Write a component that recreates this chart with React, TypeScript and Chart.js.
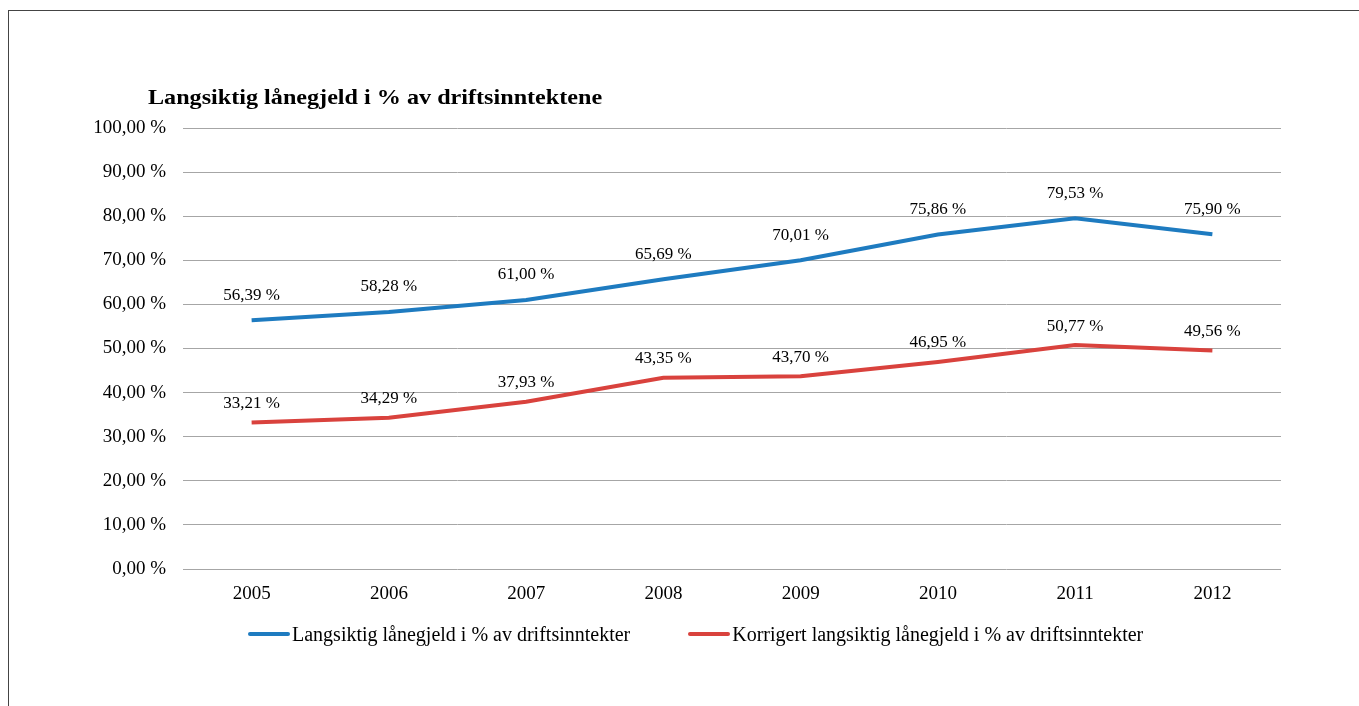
import React, { useEffect, useRef } from "react";
import { Chart, registerables } from "chart.js";

Chart.register(...registerables);

const years = ["2005", "2006", "2007", "2008", "2009", "2010", "2011", "2012"];
const langsiktig = [56.39, 58.28, 61.0, 65.69, 70.01, 75.86, 79.53, 75.9];
const korrigert = [33.21, 34.29, 37.93, 43.35, 43.7, 46.95, 50.77, 49.56];
const seriesNames = [
  "Langsiktig lånegjeld i % av driftsinntekter",
  "Korrigert langsiktig lånegjeld i % av driftsinntekter",
];
const chartTitle = "Langsiktig lånegjeld i % av driftsinntektene";
const BLUE = "#1E7BC0";
const RED = "#D9423D";
const FONT = "'Liberation Serif', 'Times New Roman', serif";

const fmt = (v: number) => v.toFixed(2).replace(".", ",") + " %";

const labelPlugin = {
  id: "pointLabels",
  afterDatasetsDraw(chart: any) {
    const ctx = chart.ctx;
    ctx.save();
    ctx.font = `17px ${FONT}`;
    ctx.fillStyle = "#000";
    ctx.textAlign = "center";
    ctx.textBaseline = "middle";
    chart.data.datasets.forEach((ds: any, di: number) => {
      const meta = chart.getDatasetMeta(di);
      const off = di === 0 ? 25 : 19;
      meta.data.forEach((pt: any, i: number) => {
        ctx.fillText(fmt(ds.data[i]), pt.x, pt.y - off);
      });
    });
    ctx.restore();
  },
};

export default function App() {
  const ref = useRef<HTMLCanvasElement>(null);
  useEffect(() => {
    if (!ref.current) return;
    const chart = new Chart(ref.current, {
      type: "line",
      data: {
        labels: years,
        datasets: [
          {
            label: seriesNames[0],
            data: langsiktig,
            borderColor: BLUE,
            backgroundColor: BLUE,
            borderWidth: 4,
            pointRadius: 0,
            tension: 0,
          },
          {
            label: seriesNames[1],
            data: korrigert,
            borderColor: RED,
            backgroundColor: RED,
            borderWidth: 4,
            pointRadius: 0,
            tension: 0,
          },
        ],
      },
      options: {
        animation: false,
        responsive: false,
        maintainAspectRatio: false,
        layout: { padding: { left: 0, right: 78, top: 128, bottom: 97 } },
        plugins: {
          legend: { display: false },
          title: { display: false },
          tooltip: { enabled: false },
        },
        scales: {
          x: {
            offset: true,
            grid: { display: false, drawTicks: false },
            border: { display: false },
            ticks: { font: { family: FONT, size: 19 }, color: "#000", padding: 14 },
            afterFit: (s: any) => {
              s.height = 40;
            },
          },
          y: {
            min: 0,
            max: 100,
            ticks: {
              stepSize: 10,
              padding: 17,
              font: { family: FONT, size: 19 },
              color: "#000",
              callback: (v: any) => fmt(Number(v)),
            },
            grid: { color: "#A6A6A6", lineWidth: 1, drawTicks: false },
            border: { display: false },
            afterFit: (s: any) => {
              s.width = 183;
            },
          },
        },
      },
      plugins: [labelPlugin],
    });
    return () => chart.destroy();
  }, []);

  return (
    <div
      style={{
        position: "absolute",
        left: 0,
        top: 0,
        width: 1359,
        height: 706,
        overflow: "hidden",
        background: "#fff",
        fontFamily: FONT,
      }}
    >
      <div
        style={{
          position: "absolute",
          left: 8,
          top: 10,
          width: 1500,
          height: 900,
          border: "1px solid #444",
        }}
      />
      <canvas ref={ref} width={1359} height={706} style={{ position: "absolute", left: 0, top: 0 }} />
      <div
        style={{
          position: "absolute",
          left: 148,
          top: 84,
          fontSize: 21,
          fontWeight: "bold",
          whiteSpace: "nowrap",
          lineHeight: "26px",
          transform: "scaleX(1.15)",
          transformOrigin: "0 0",
        }}
      >
        {chartTitle}
      </div>
      <div
        style={{
          position: "absolute",
          top: 622,
          left: 248,
          display: "flex",
          alignItems: "center",
          fontSize: 20,
          lineHeight: "24px",
          whiteSpace: "nowrap",
        }}
      >
        {[BLUE, RED].map((c, i) => (
          <div key={i} style={{ display: "flex", alignItems: "center", marginRight: i === 0 ? 58 : 0 }}>
            <span style={{ display: "inline-block", width: 42, height: 4, borderRadius: 2, background: c, marginRight: 2 }} />
            <span>{seriesNames[i]}</span>
          </div>
        ))}
      </div>
    </div>
  );
}
